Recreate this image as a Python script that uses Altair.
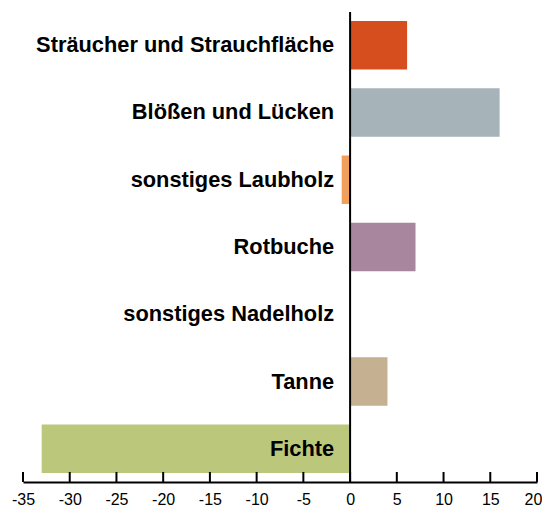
import altair as alt
import pandas as pd

categories = ["Sträucher und Strauchfläche", "Blößen und Lücken", "sonstiges Laubholz",
              "Rotbuche", "sonstiges Nadelholz", "Tanne", "Fichte"]
values = [6.1, 16.0, -0.9, 7.0, 0.0, 4.0, -33.0]
colors = ["#D64E1E", "#A6B3B9", "#F0A05A", "#A8879E", "#FFFFFF", "#C5B191", "#BBC77A"]
ticks = [-35, -30, -25, -20, -15, -10, -5, 0, 5, 10, 15, 20]

df = pd.DataFrame({"cat": categories, "val": values, "col": colors})
tick_df = pd.DataFrame({"t": ticks})

W, H = 514, 470
FONT = "Liberation Sans"

xscale = alt.Scale(domain=[-35, 20], nice=False, zero=False)
yscale = alt.Scale(domain=categories, paddingInner=0.28, paddingOuter=0.134)

bars = alt.Chart(df).mark_bar().encode(
    x=alt.X("val:Q", scale=xscale,
            axis=alt.Axis(values=ticks, title=None, grid=False, tickSize=0,
                          domainColor="black", domainWidth=2, labelFontSize=16,
                          labelFont=FONT, labelColor="black", labelPadding=9,
                          labelFlush=False,
                          labelOffset=alt.condition("datum.value == 20", alt.value(-4), alt.value(0)),
                          labelExpr="'' + datum.value")),
    y=alt.Y("cat:N", scale=yscale, axis=None),
    color=alt.Color("col:N", scale=None),
)

labels = alt.Chart(df).mark_text(align="right", baseline="middle", dx=-16, fontSize=21.8,
                                 fontWeight="bold", font=FONT, color="black").encode(
    x=alt.datum(0),
    y=alt.Y("cat:N", scale=yscale, axis=None),
    text="cat:N",
)

zero = alt.Chart(pd.DataFrame({"z": [0]})).mark_rule(color="black", strokeWidth=2).encode(
    x=alt.X("z:Q", scale=xscale),
    y=alt.value(0), y2=alt.value(H),
)

tickmarks = alt.Chart(tick_df).mark_rule(color="black", strokeWidth=2).encode(
    x=alt.X("t:Q", scale=xscale),
    y=alt.value(H - 10), y2=alt.value(H),
)

chart = alt.layer(bars, zero, tickmarks, labels).properties(
    width=W, height=H,
    autosize=alt.AutoSizeParams(type="none"),
    padding={"left": 15, "top": 4, "right": 5, "bottom": 24},
).configure(background="white", view=alt.ViewConfig(strokeWidth=0))

chart.save("out.html", embed_options={"renderer": "svg", "actions": False})
